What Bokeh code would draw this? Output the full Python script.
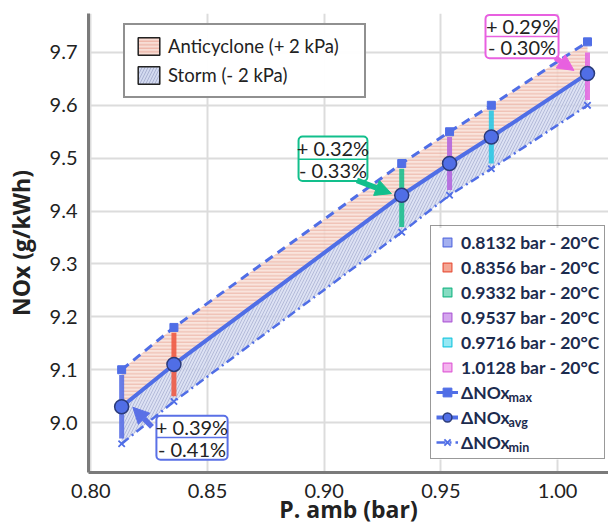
from bokeh.plotting import figure
from bokeh.models import (Legend, LegendItem, Range1d, FixedTicker, BoxAnnotation,
                          Arrow, NormalHead, Label)
from bokeh.embed import file_html
from bokeh.resources import INLINE

# ---------------- data ----------------
p_amb = [0.8132, 0.8356, 0.9332, 0.9537, 0.9716, 1.0128]
nox_max = [9.10, 9.18, 9.49, 9.55, 9.60, 9.72]
nox_avg = [9.03, 9.11, 9.43, 9.49, 9.54, 9.66]
nox_min = [8.96, 9.04, 9.36, 9.43, 9.48, 9.60]
bar_top = [9.09, 9.17, 9.48, 9.54, 9.59, 9.70]
bar_bottom = [8.97, 9.05, 9.37, 9.44, 9.49, 9.61]
series_labels = ["0.8132 bar - 20°C", "0.8356 bar - 20°C", "0.9332 bar - 20°C",
                 "0.9537 bar - 20°C", "0.9716 bar - 20°C", "1.0128 bar - 20°C"]
x_ticks = [0.80, 0.85, 0.90, 0.95, 1.00]
y_ticks = [9.0, 9.1, 9.2, 9.3, 9.4, 9.5, 9.6, 9.7]
pct_plus = ["+ 0.39%", "+ 0.32%", "+ 0.29%"]
pct_minus = ["- 0.41%", "- 0.33%", "- 0.30%"]

# ---------------- styles ----------------
FONT = "Lato"
LFONT = "Open Sans"
BLUE = "#506ee6"
bar_colors = ["#5a70e6", "#ee5a44", "#1dbf8e", "#b466de", "#2cc8e4", "#e36ae0"]
sq_fill = ["#a4b0f0", "#f4a694", "#86dcc2", "#d4a6ee", "#96e8f4", "#f4b4ee"]
sq_line = ["#5a6fe0", "#e8553f", "#20b888", "#b060d8", "#20c8e0", "#e060d8"]
TXT = "#1c2b4e"
TOP_FILL, TOP_HATCH = "#f7ddd5", "#eaa898"
BOT_FILL, BOT_HATCH = "#d3daf0", "#aab2d2"

# annotation boxes: (left, right, bottom, top, divider, color, arrow tail x,y, head x,y)
ann = [
    (0.8281, 0.8586, 8.930, 9.013, 8.972, "#5a70e6", 0.8262, 8.992, 0.8180, 9.029),
    (0.8890, 0.9185, 9.457, 9.541, 9.498, "#12bf8c", 0.9140, 9.458, 0.9288, 9.433),
    (0.9691, 1.0004, 9.689, 9.771, 9.730, "#e860e0", 0.9990, 9.690, 1.0070, 9.666),
]

p = figure(width=608, height=527, output_backend="svg", toolbar_location=None,
           x_range=Range1d(0.799, 1.0218), y_range=Range1d(8.9057, 9.7736),
           min_border_left=88, min_border_right=0, min_border_top=13, min_border_bottom=54)
p.outline_line_color = None
p.background_fill_color = "white"

# axes
for ax in (p.xaxis[0], p.yaxis[0]):
    ax.axis_line_color = "#7a7a7a"
    ax.axis_line_width = 3
    ax.major_tick_line_color = None
    ax.minor_tick_line_color = None
    ax.major_label_text_font = FONT
    ax.major_label_text_font_size = "20px"
    ax.major_label_text_color = "#222222"
    ax.axis_label_text_font = LFONT
    ax.axis_label_text_font_size = "23px"
    ax.axis_label_text_color = "#222222"
    ax.axis_label_text_font_style = "bold"
p.xaxis.ticker = FixedTicker(ticks=x_ticks)
p.yaxis.ticker = FixedTicker(ticks=y_ticks)
p.xaxis.major_label_overrides = {t: f"{t:.2f}" for t in x_ticks}
p.yaxis.major_label_overrides = {t: f"{t:.1f}" for t in y_ticks}
p.xaxis.axis_label = "P. amb (bar)"
p.yaxis.axis_label = "NOx (g/kWh)"
p.xaxis.major_label_standoff = 5
p.yaxis.major_label_standoff = 5
p.yaxis.axis_label_standoff = 10
p.xaxis.axis_label_standoff = -8
p.grid.grid_line_color = "#dcdcdc"
p.grid.grid_line_width = 2

# white backing for legend 2 (legend itself transparent so subscripts show)
p.add_layout(BoxAnnotation(left=0.9455, right=1.0218, bottom=8.9302, top=9.368,
                           fill_color="white", fill_alpha=1, line_color=None, level="underlay"))

# bands (semi-transparent so grid shows through)
p.varea(x=p_amb, y1=nox_avg, y2=nox_max, fill_color=TOP_FILL, fill_alpha=0.8,
        hatch_pattern="horizontal_line", hatch_color=TOP_HATCH, hatch_alpha=0.8,
        hatch_scale=3.5, hatch_weight=1)
p.varea(x=p_amb, y1=nox_min, y2=nox_avg, fill_color=BOT_FILL, fill_alpha=0.8,
        hatch_pattern="right_diagonal_line", hatch_color=BOT_HATCH, hatch_alpha=0.8,
        hatch_scale=6, hatch_weight=1)

# legend swatches for bands (hidden renderers)
sw_a = p.quad(left=[p_amb[0]], right=[p_amb[1]], bottom=[nox_avg[0]], top=[nox_max[0]],
              fill_color=TOP_FILL, hatch_pattern="horizontal_line", hatch_color=TOP_HATCH,
              hatch_scale=3.5, line_color="#222222", line_width=1.5, visible=False)
sw_s = p.quad(left=[p_amb[0]], right=[p_amb[1]], bottom=[nox_min[0]], top=[nox_avg[0]],
              fill_color=BOT_FILL, hatch_pattern="right_diagonal_line", hatch_color=BOT_HATCH,
              hatch_scale=6, line_color="#222222", line_width=1.5, visible=False)

# colored vertical bars
bar_items = []
for i in range(len(p_amb)):
    p.segment(x0=[p_amb[i]], x1=[p_amb[i]], y0=[bar_bottom[i]], y1=[bar_top[i]],
              line_color=bar_colors[i], line_width=5, line_alpha=0.9)
    sq = p.scatter(x=[p_amb[i]], y=[nox_avg[i]], marker="square", size=9,
                   fill_color=sq_fill[i], line_color=sq_line[i], line_width=1.2, visible=False)
    bar_items.append(LegendItem(label=series_labels[i], renderers=[sq]))

# lines
l_max = p.line(p_amb, nox_max, line_color=BLUE, line_width=3, line_dash="9 6")
s_max = p.scatter(p_amb, nox_max, marker="square", size=8, fill_color=BLUE, line_color=BLUE)
l_avg = p.line(p_amb, nox_avg, line_color=BLUE, line_width=4)
l_min = p.line(p_amb, nox_min, line_color=BLUE, line_width=2.5, line_dash="9 4 2 4")
s_min = p.scatter(p_amb, nox_min, marker="x", size=9, line_color=BLUE, line_width=1.8)
s_avg = p.scatter(p_amb, nox_avg, marker="circle", size=14, fill_color=BLUE,
                  line_color="#2b3b7a", line_width=1.5)

# annotation boxes with arrows
for k, (l, r, b, t, d, c, tx, ty, hx, hy) in enumerate(ann):
    p.add_layout(BoxAnnotation(left=l, right=r, bottom=b, top=t, fill_color="white",
                               fill_alpha=1, line_color=c, line_alpha=1, line_width=2,
                               border_radius=4, level="annotation"))
    p.segment(x0=[l], x1=[r], y0=[d], y1=[d], line_color=c, line_width=1.5, level="overlay")
    cx = (l + r) / 2
    p.add_layout(Label(x=cx, y=(t + d) / 2, text=pct_plus[k], text_align="center",
                       text_baseline="middle", text_font=FONT, text_font_size="20px",
                       text_color="#222222", level="overlay"))
    p.add_layout(Label(x=cx, y=(d + b) / 2, text=pct_minus[k], text_align="center",
                       text_baseline="middle", text_font=FONT, text_font_size="20px",
                       text_color="#222222", level="overlay"))
    p.add_layout(Arrow(x_start=tx, y_start=ty, x_end=hx, y_end=hy, line_color=c, line_width=5.5,
                       end=NormalHead(size=16, fill_color=c, line_color=c)))

# legend 1
leg1 = Legend(items=[LegendItem(label="Anticyclone (+ 2 kPa)", renderers=[sw_a]),
                     LegendItem(label="Storm (- 2 kPa)", renderers=[sw_s])],
              location=(35, 374), orientation="vertical")
leg1.label_text_font = FONT
leg1.label_text_font_size = "18.5px"
leg1.label_text_color = "#222222"
leg1.glyph_width = 27
leg1.glyph_height = 22
leg1.label_height = 22
leg1.label_width = 186
leg1.spacing = 7
leg1.padding = 10
leg1.label_standoff = 6
leg1.border_line_color = "#222222"
leg1.border_line_width = 2
leg1.margin = 0
p.add_layout(leg1)

# legend 2
line_items = [LegendItem(label="ΔNOx", renderers=[l_max, s_max]),
              LegendItem(label="ΔNOx", renderers=[l_avg, s_avg]),
              LegendItem(label="ΔNOx", renderers=[l_min, s_min])]
leg2 = Legend(items=bar_items + line_items, location=(342, 13), orientation="vertical")
leg2.label_text_font = FONT
leg2.label_text_font_size = "17.5px"
leg2.label_text_font_style = "bold"
leg2.label_text_color = TXT
leg2.glyph_width = 22
leg2.glyph_height = 22
leg2.label_height = 22
leg2.spacing = 3
leg2.padding = 5
leg2.label_standoff = 3
leg2.border_line_color = "#333333"
leg2.border_line_width = 1.5
leg2.background_fill_alpha = 0
leg2.margin = 0
p.add_layout(leg2)

# subscripts for legend 2
subs = ["max", "avg", "min"]
sub_y = [9.0472, 9.0000, 8.9528]
for s, yy in zip(subs, sub_y):
    p.add_layout(Label(x=0.9790, y=yy, text=s, text_baseline="middle", text_font=FONT,
                       text_font_size="12.5px", text_font_style="bold", text_color=TXT,
                       level="overlay"))

open("out.html", "w").write(file_html(p, INLINE))
